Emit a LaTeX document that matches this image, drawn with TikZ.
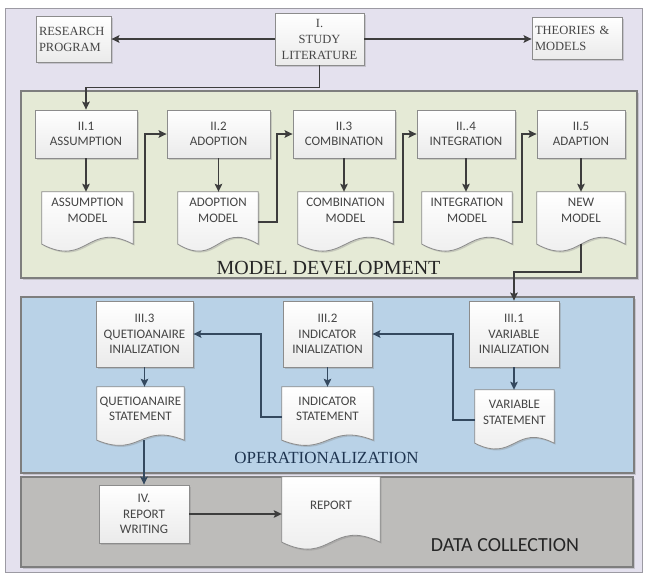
\documentclass[tikz,border=0pt]{standalone}
\usepackage{fontspec}
\setmainfont{Liberation Serif}
\newfontfamily\calfont{Carlito}
\usetikzlibrary{arrows.meta,calc,shadows}

\pgfdeclarelayer{panels}
\pgfdeclarelayer{paper}
\pgfsetlayers{panels,paper,main}

\definecolor{framefill}{HTML}{E4E1EE}
\definecolor{framedge}{HTML}{9C9AA3}
\definecolor{devgreen}{HTML}{E5EAD6}
\definecolor{opblue}{HTML}{B9D2E7}
\definecolor{datagray}{HTML}{BDBCBA}
\definecolor{paneledge}{HTML}{7E7E7E}
\definecolor{boxedge}{HTML}{8C8C8C}
\definecolor{boxink}{HTML}{454545}
\definecolor{flowink}{HTML}{3D3D3D}
\definecolor{slate}{HTML}{34495F}
\definecolor{opink}{HTML}{1E3450}

% Document symbol: straight top and sides, wavy bottom edge.
% #1 node name, #2 drop of the bottom corners below the node, #3 wave depth
\newcommand\docoutline[3]{%
  \begin{pgfonlayer}{paper}
    \path[paperdoc] (#1.north west) -- (#1.north east)
      -- ($(#1.south east)+(0,#2)$)
      .. controls ($(#1.south)+(0,#2-#3)$) and ($(#1.south)+(0,#2+#3)$)
      .. ($(#1.south west)+(0,#2)$) -- cycle;
  \end{pgfonlayer}}

\begin{document}
\begin{tikzpicture}[x=1pt, y=-1pt,
  softshadow/.style={drop shadow={shadow xshift=1.5pt, shadow yshift=-1.5pt, opacity=0.3}},
  panel/.style={draw=paneledge, line width=1.2pt},
  stepbox/.style={draw=boxedge, line width=0.8pt, top color=white, bottom color=black!8,
    softshadow, text=boxink, align=center, inner sep=2pt,
    font=\calfont\fontsize{13}{15.5}\selectfont},
  litbox/.style={stepbox, font=\fontsize{12.5}{16}\selectfont},
  doctext/.style={text=boxink, align=center, inner sep=0pt,
    font=\calfont\fontsize{13}{15.5}\selectfont},
  paperdoc/.style={draw=boxedge, line width=0.8pt, top color=white, bottom color=black!8, softshadow},
  flow/.style={draw=flowink, line width=1.5pt, -{Stealth[length=8pt,width=7.5pt,inset=1.5pt]}},
  slateflow/.style={flow, draw=slate},
]
\useasboundingbox (0,0) rectangle (646,576);

% ---- frame and phase panels
\begin{pgfonlayer}{panels}
  \fill[white] (0,0) rectangle (646,576);
  \path[draw=framedge, line width=1pt, fill=framefill] (5,8) rectangle (642,572);
  \path[panel, fill=devgreen, softshadow] (21,91) rectangle (637,278);
  \path[panel, fill=opblue, softshadow] (21,297) rectangle (634,473);
  \path[panel, fill=datagray, softshadow] (21,477) rectangle (633,567);
\end{pgfonlayer}

% ---- phase titles
\node[font=\fontsize{20}{24}\selectfont, text=black!85] (devlabel) at (328.5,268.5) {MODEL DEVELOPMENT};
\node[font=\fontsize{17}{20}\selectfont, text=opink] (oplabel) at (326.5,458) {OPERATIONALIZATION};
\node[font=\calfont\fontsize{20}{24}\selectfont, text=black!85] (datalabel) at (505,545) {DATA COLLECTION};

% ---- I. literature study
\node[litbox, align=left, minimum width=75pt, minimum height=46pt, text width=69pt] (rp) at (73.5,39) {RESEARCH\\PROGRAM};
\node[litbox, minimum width=89pt, minimum height=52pt] (study) at (319.5,39) {I.\\STUDY\\LITERATURE};
\node[litbox, align=left, minimum width=90pt, minimum height=42pt, text width=84pt] (theo) at (577,38) {THEORIES \&\\MODELS};

% ---- II. model development
\node[stepbox, minimum width=102pt, minimum height=48pt] (a1) at (86,134) {II.1\\ASSUMPTION};
\node[stepbox, minimum width=103pt, minimum height=48pt] (a2) at (218.5,134) {II.2\\ADOPTION};
\node[stepbox, minimum width=102pt, minimum height=48pt] (a3) at (344,134) {II.3\\COMBINATION};
\node[stepbox, minimum width=98pt, minimum height=48pt] (a4) at (466,134) {II..4\\INTEGRATION};
\node[stepbox, minimum width=88pt, minimum height=48pt] (a5) at (581,134) {II.5\\ADAPTION};

\node[doctext, minimum width=91pt, minimum height=37pt] (d1) at (87.5,210.5) {ASSUMPTION\\MODEL};
\node[doctext, minimum width=80pt, minimum height=37pt] (d2) at (218,210.5) {ADOPTION\\MODEL};
\node[doctext, minimum width=95pt, minimum height=37pt] (d3) at (345.5,210.5) {COMBINATION\\MODEL};
\node[doctext, minimum width=90pt, minimum height=37pt] (d4) at (467,210.5) {INTEGRATION\\MODEL};
\node[doctext, minimum width=88pt, minimum height=37pt] (d5) at (581,210.5) {NEW\\MODEL};
\docoutline{d1}{15}{24}
\docoutline{d2}{15}{24}
\docoutline{d3}{15}{24}
\docoutline{d4}{15}{24}
\docoutline{d5}{15}{24}

% ---- III. operationalization
\node[stepbox, minimum width=97pt, minimum height=66pt] (qb) at (144.5,334) {III.3\\QUETIOANAIRE\\INIALIZATION};
\node[stepbox, minimum width=89pt, minimum height=66pt] (ib) at (327.5,334) {III.2\\INDICATOR\\INIALIZATION};
\node[stepbox, minimum width=90pt, minimum height=66pt] (vb) at (514,334) {III.1\\VARIABLE\\INIALIZATION};

\node[doctext, minimum width=87pt, minimum height=44pt] (qd) at (140.5,409) {QUETIOANAIRE\\STATEMENT};
\node[doctext, minimum width=91pt, minimum height=44pt] (id) at (327.5,409) {INDICATOR\\STATEMENT};
\node[doctext, minimum width=79pt, minimum height=45pt] (vd) at (514.5,412.5) {VARIABLE\\STATEMENT};
\docoutline{qd}{9}{18}
\docoutline{id}{9}{18}
\docoutline{vd}{8}{20}

% ---- IV. report
\node[stepbox, minimum width=90pt, minimum height=58pt] (iv) at (144,514) {IV.\\REPORT\\WRITING};
\node[doctext, minimum width=98pt, minimum height=56pt] (rd) at (331,505) {REPORT};
\docoutline{rd}{9}{24}

% ---- connectors
\draw[flow] (study.west) -- (study.west -| rp.east);
\draw[flow] (study.east) -- (study.east -| theo.west);
\draw[flow] (study.south) -- ++(0,22) -| (a1.north);

\draw[flow] (a1.south) -- (a1.south |- d1.north);
\draw[flow] (a2.south) -- (a2.south |- d2.north);
\draw[flow] (a3.south) -- (a3.south |- d3.north);
\draw[flow] (a4.south) -- (a4.south |- d4.north);
\draw[flow] (a5.south) -- (a5.south |- d5.north);

\draw[flow] ([yshift=-11.5pt]d1.east) -- ++(12,0) |- (a2.west);
\draw[flow] ([yshift=-11.5pt]d2.east) -- ++(19,0) |- (a3.west);
\draw[flow] ([yshift=-11.5pt]d3.east) -- ++(10,0) |- (a4.west);
\draw[flow] ([yshift=-11.5pt]d4.east) -- ++(10,0) |- (a5.west);
\draw[flow] ([yshift=-15pt]d5.south) -- ++(0,28) -| (vb.north);

\draw[slateflow] (vb.south) -- (vb.south |- vd.north);
\draw[slateflow] (ib.south) -- (ib.south |- id.north);
\draw[slateflow] (qb.south) -- (qb.south |- qd.north);
\draw[slateflow] ([yshift=-7.5pt]vd.west) -- ++(-22,0) |- (ib.east);
\draw[slateflow] ([yshift=-8pt]id.west) -- ++(-21,0) |- (qb.east);
\draw[slateflow] ($(qd.south -| iv.north)+(0,9)$) -- (iv.north);

\draw[flow] (iv.east) -- (iv.east -| rd.west);
\end{tikzpicture}
\end{document}
